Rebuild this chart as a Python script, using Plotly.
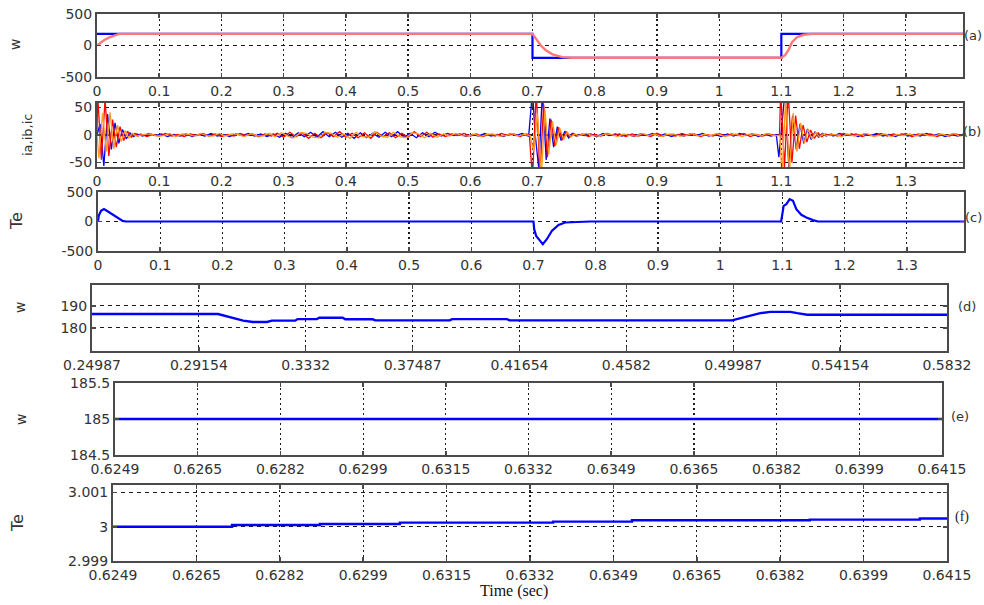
import numpy as np
import plotly.graph_objects as go

W, H = 984, 605

# ---------------- data ----------------
# (a) speed reference (blue) and actual speed (pink)
a_ref_t = [0.0, 0.7, 0.7, 1.1, 1.1, 1.392]
a_ref_w = [185, 185, -195, -195, 185, 185]
a_act_t = [0.0, 0.005, 0.010, 0.020, 0.030, 0.036, 0.700, 0.7054, 0.7134, 0.7214, 0.7322, 0.748, 0.764,
           1.100, 1.1064, 1.1118, 1.1171, 1.1252, 1.1359, 1.1493, 1.392]
a_act_w = [0, 40, 75, 130, 170, 185, 185, 106, 0, -75, -140, -185, -195,
           -195, -150, -65, 53, 132, 170, 185, 185]

# (b) phase currents: transients (peak readings) and steady ripple samples
a1_t = [0.000, 0.001, 0.007, 0.013, 0.019, 0.025, 0.031, 0.037, 0.043, 0.049, 0.055, 0.061, 0.066]
a1_v = [0, 75, -45, 65, -38, 28, -22, 15, -10, 7, -4, 3, -2]
b1_t = [0.000, 0.005, 0.011, 0.017, 0.023, 0.029, 0.035, 0.041, 0.047, 0.053, 0.059, 0.064]
b1_v = [0, 20, -56, 38, -26, 22, -15, 10, -7, 4, -3, 2]
c1_t = [0.000, 0.003, 0.009, 0.015, 0.021, 0.027, 0.033, 0.039, 0.045, 0.051, 0.057, 0.063]
c1_v = [0, -42, 40, -30, 41, -25, 18, -12, 8, -5, 3, -2]

a2_t = [0.695, 0.700, 0.706, 0.712, 0.718, 0.724, 0.730, 0.736, 0.742, 0.748, 0.754, 0.760, 0.766, 0.772]
a2_v = [0, -80, 80, -70, 55, -40, 28, -20, 14, -9, 6, -4, 3, -2]
b2_t = [0.694, 0.700, 0.704, 0.710, 0.716, 0.722, 0.728, 0.734, 0.740, 0.746, 0.752, 0.758, 0.764, 0.770, 0.775]
b2_v = [0, 80, 5, -60, 78, -45, 30, -22, 15, -10, 7, -5, 3, -2, 1]
c2_t = [0.696, 0.702, 0.708, 0.714, 0.720, 0.726, 0.732, 0.738, 0.744, 0.750, 0.756, 0.762, 0.768, 0.774]
c2_v = [0, -30, 40, -80, 45, -35, 25, -18, 12, -8, 5, -3, 2, -1]

a3_t = [1.097, 1.099, 1.105, 1.111, 1.117, 1.123, 1.129, 1.135, 1.141, 1.147, 1.153, 1.159, 1.165, 1.171, 1.177]
a3_v = [0, 80, -60, 80, -50, 35, -25, 18, -13, 9, -6, 4, -3, 2, -1]
b3_t = [1.092, 1.096, 1.100, 1.106, 1.112, 1.118, 1.124, 1.130, 1.136, 1.142, 1.148, 1.154, 1.160, 1.166, 1.172, 1.178]
b3_v = [0, -40, 10, 80, -58, 35, -26, 20, -15, 11, -8, 6, -4, 3, -2, 1]
c3_t = [1.098, 1.101, 1.107, 1.113, 1.119, 1.125, 1.131, 1.137, 1.143, 1.149, 1.155, 1.161, 1.167, 1.173]
c3_v = [0, -80, 70, -70, 40, -30, 22, -15, 11, -7, 5, -3, 2, -1]

ripple_step = 0.01
seg_start = [0.07, 0.78, 1.18]
phase_shift = {"a": 0.0, "b": 0.0033, "c": 0.0066}
na1 = [2,-3,1,-2,3,-2,1,-3,2,-1, 3,-2,2,-3,1,-2,3,-1,2,-3, 2,-2,3,-4,5,-3,4,-6,3,-5,
       4,-3,6,-4,3,-5,4,-6,5,-3, 4,-5,3,-4,6,-3,5,-4,2,-3, 2,-1,3,-2,2,-3,1,-2,3,-1, 2,-3,2]
nb1 = [-2,3,-1,2,-3,1,-2,2,-3,1, -2,3,-2,1,-3,2,-1,3,-2,2, -3,2,-4,3,-5,4,-3,5,-4,6,
       -3,5,-4,3,-6,4,-5,3,-4,5, -3,6,-4,3,-5,4,-3,5,-2,3, -1,2,-3,1,-2,3,-2,1,-3,2, -1,3,-2]
nc1 = [1,2,-2,-1,3,-3,2,1,-2,3, -1,-2,3,-2,2,1,-3,2,-1,-2, 3,-3,4,-2,-5,4,3,-4,-5,5,
       3,-4,2,-6,5,-3,-4,6,-2,-4, 5,-3,-5,4,2,-5,3,-4,2,-2, 3,-1,-2,2,-3,1,2,-2,-1,3, -2,1,-1]
na2 = [2,-3,1,-2,3,-1,2,-3,2,-2,1,-3,3,-2,1,-2,3,-1,2,-3,1,-2,3,-2,2,-1,3,-3,1,-2,2,-1]
nb2 = [-1,2,-3,3,-1,2,-2,1,-3,2,-1,3,-2,2,-3,1,-2,2,-1,3,-2,1,-3,2,-2,3,-1,2,-3,1,-2,1]
nc2 = [3,-1,-2,2,1,-3,2,-1,-2,3,-1,2,-3,1,2,-2,-1,3,-2,1,-1,3,-2,-1,2,-3,1,2,-2,3,-1,-1]
na3 = [2,-2,3,-1,2,-3,1,-2,3,-2,2,-1,3,-3,2,-1,2,-3,1,-2,2,-1]
nb3 = [-2,3,-1,2,-3,2,-1,3,-2,1,-3,2,-2,1,-2,3,-1,2,-3,1,-2,2]
nc3 = [1,-3,2,-2,1,3,-2,-1,2,-3,1,-1,2,-2,3,-1,-2,2,-1,3,-2,1]

# (c) electromagnetic torque
c_t = [0.0, 0.0013, 0.0048, 0.0096, 0.0160, 0.0240, 0.0316, 0.0396, 0.045,
       0.700, 0.7011, 0.7043, 0.7107, 0.715, 0.7214, 0.7295, 0.7402, 0.751, 0.791,
       1.098, 1.100, 1.1021, 1.1064, 1.1118, 1.1171, 1.1225, 1.1305, 1.1386, 1.1493, 1.1573, 1.392]
c_te = [0, 100, 180, 210, 170, 115, 50, 10, 0,
        0, -130, -244, -329, -385, -300, -159, -57, -17, 0,
        0, 125, 266, 295, 380, 351, 210, 113, 68, 23, 0, 0]

# (d) zoomed speed
d_t = [0.24987, 0.2990, 0.3088, 0.3126, 0.3181, 0.3200, 0.3291, 0.3300, 0.3375, 0.3385, 0.3476, 0.3486,
       0.3593, 0.3603, 0.3893, 0.3903, 0.4117, 0.4127, 0.4994, 0.5053, 0.5104, 0.5143, 0.5221, 0.5248,
       0.5287, 0.5832]
d_w = [186.3, 186.3, 183.3, 182.7, 182.7, 183.3, 183.3, 184.0, 184.0, 184.6, 184.6, 183.9,
       183.9, 183.4, 183.4, 184.0, 184.0, 183.4, 183.4, 185.2, 186.7, 187.3, 187.3, 186.7,
       186.0, 186.0]
d_ticks = ["0.24987", "0.29154", "0.3332", "0.37487", "0.41654", "0.4582", "0.49987", "0.54154", "0.5832"]

# (e) zoomed speed, steady
e_t = [0.6249, 0.6415]
e_w = [185, 185]

# (f) zoomed torque, steady
f_t = [0.6249, 0.62727, 0.62902, 0.63061, 0.63214, 0.63366, 0.63523, 0.63694, 0.63877, 0.64096, 0.6415]
f_te = [3.0, 3.00005, 3.00008, 3.00012, 3.00012, 3.00015, 3.00019, 3.00019, 3.00021, 3.00024, 3.00024]

ef_tickvals = [0.6249, 0.62656, 0.62822, 0.62988, 0.63154, 0.6332, 0.63486, 0.63652, 0.63818, 0.63984, 0.6415]
ef_ticks = ["0.6249", "0.6265", "0.6282", "0.6299", "0.6315", "0.6332", "0.6349", "0.6365", "0.6382", "0.6399", "0.6415"]

full_ticks = [0, 0.1, 0.2, 0.3, 0.4, 0.5, 0.6, 0.7, 0.8, 0.9, 1.0, 1.1, 1.2, 1.3]
full_ticktext = ["0", "0.1", "0.2", "0.3", "0.4", "0.5", "0.6", "0.7", "0.8", "0.9", "1", "1.1", "1.2", "1.3"]

# ---------------- build ----------------
def phase(tr, noise, shift):
    t, v = [], []
    for k in range(3):
        t += tr[k][0]
        v += tr[k][1]
        n = noise[k]
        t += [seg_start[k] + shift + ripple_step * i for i in range(len(n))]
        v += n
    return t, v

ia_t, ia_v = phase([(a1_t, a1_v), (a2_t, a2_v), (a3_t, a3_v)], [na1, na2, na3], phase_shift["a"])
ib_t, ib_v = phase([(b1_t, b1_v), (b2_t, b2_v), (b3_t, b3_v)], [nb1, nb2, nb3], phase_shift["b"])
ic_t, ic_v = phase([(c1_t, c1_v), (c2_t, c2_v), (c3_t, c3_v)], [nc1, nc2, nc3], phase_shift["c"])

BLUE = "#0000ff"
PINK = "#ff7878"
RED = "#ff0000"
ORANGE = "#ff9a1a"

fig = go.Figure()
def add(x, y, n, color, width, shape="linear"):
    fig.add_trace(go.Scatter(x=x, y=y, mode="lines", xaxis="x%d" % n, yaxis="y%d" % n,
                             line=dict(color=color, width=width, shape=shape), showlegend=False,
                             hoverinfo="skip"))

add(a_ref_t, a_ref_w, 1, BLUE, 2.2)
add(a_act_t, a_act_w, 1, PINK, 2.4)
add(ib_t, ib_v, 2, BLUE, 1.3)
add(ia_t, ia_v, 2, RED, 1.3)
add(ic_t, ic_v, 2, ORANGE, 1.3)
add(c_t, c_te, 3, BLUE, 2.2)
add(d_t, d_w, 4, BLUE, 2.4)
add(e_t, e_w, 5, BLUE, 2.6)
add(f_t, f_te, 6, BLUE, 2.4, "hv")

# panel boxes in window pixels: (left, right, top, bottom)
boxes = [(97, 963, 14, 77), (97, 963, 103, 167), (98, 964, 192, 251),
         (92, 947, 285, 351), (115, 942, 383, 455), (113, 947, 485, 561)]

def px(x):
    return x / W

def py(y):
    return 1 - y / H

tickfont = dict(family="DejaVu Sans", size=14, color="#333333")
layout = dict(width=W, height=H, margin=dict(l=0, r=0, t=0, b=0, pad=0), autosize=False,
              paper_bgcolor="white", plot_bgcolor="white", showlegend=False)

xspecs = [
    dict(range=[0, 1.392], tickvals=full_ticks, ticktext=full_ticktext),
    dict(range=[0, 1.392], tickvals=full_ticks, ticktext=full_ticktext),
    dict(range=[0, 1.392], tickvals=full_ticks, ticktext=full_ticktext),
    dict(range=[0.24987, 0.5832], tickvals=[float(s) for s in d_ticks], ticktext=d_ticks),
    dict(range=[0.6249, 0.6415], tickvals=ef_tickvals, ticktext=ef_ticks),
    dict(range=[0.6249, 0.6415], tickvals=ef_tickvals, ticktext=ef_ticks),
]
yspecs = [
    dict(range=[-500, 500], tickvals=[-500, 0, 500], ticktext=["-500", "0", "500"]),
    dict(range=[-58, 58], tickvals=[-50, 0, 50], ticktext=["-50", "0", "50"]),
    dict(range=[-500, 500], tickvals=[-500, 0, 500], ticktext=["-500", "0", "500"]),
    dict(range=[169.5, 199.5], tickvals=[180, 190], ticktext=["180", "190"]),
    dict(range=[184.5, 185.5], tickvals=[184.5, 185, 185.5], ticktext=["184.5", "185", "185.5"]),
    dict(range=[2.999, 3.00122], tickvals=[2.999, 3.0, 3.001], ticktext=["2.999", "3", "3.001"]),
]

common = dict(showline=True, mirror="ticks", linecolor="#4a4a4a", linewidth=2,
              ticks="inside", ticklen=4, tickcolor="#4a4a4a", tickwidth=1.5,
              showgrid=True, gridcolor="#1a1a1a", gridwidth=1.2, zeroline=False,
              tickfont=tickfont, tickmode="array", fixedrange=True, automargin=False)

for i, (l, r, t, b) in enumerate(boxes):
    n = i + 1
    xa = dict(common, domain=[px(l), px(r)], anchor="y%d" % n, griddash="2px,3px", **xspecs[i])
    ya = dict(common, domain=[py(b), py(t)], anchor="x%d" % n, griddash="4px,4px", **yspecs[i])
    layout["xaxis" if n == 1 else "xaxis%d" % n] = xa
    layout["yaxis" if n == 1 else "yaxis%d" % n] = ya

anns = []
def ann(text, x, y, size=13, angle=0, family="DejaVu Sans", color="#333333"):
    anns.append(dict(text=text, x=px(x), y=py(y), xref="paper", yref="paper", showarrow=False,
                     textangle=angle, font=dict(family=family, size=size, color=color),
                     xanchor="center", yanchor="middle"))

ann("w", 15, 45, 14, -90)
ann("ia,ib,ic", 27, 135, 13, -90)
ann("Te", 16, 221, 16, -90)
ann("w", 20, 308, 14, -90)
ann("w", 21, 420, 14, -90)
ann("Te", 17, 523, 16, -90)

ann("(a)", 973, 36, 13)
ann("(b)", 972, 132, 13)
ann("(c)", 973, 217, 13)
ann("(d)", 967, 306, 13)
ann("(e)", 960, 417, 13)
ann("(f)", 962, 517, 14, family="Liberation Serif", color="#222222")

ann("Time (sec)", 514, 591, 16, family="Liberation Serif", color="#111111")

layout["annotations"] = anns
fig.update_layout(**layout)
# the page body would otherwise add an 8px margin and scrollbars around the fixed-size figure
fig.write_html("out.html",
               config={"displayModeBar": False, "staticPlot": True},
               post_script="document.body.style.margin='0';"
                           "document.documentElement.style.overflow='hidden';"
                           "document.body.style.overflow='hidden';")
